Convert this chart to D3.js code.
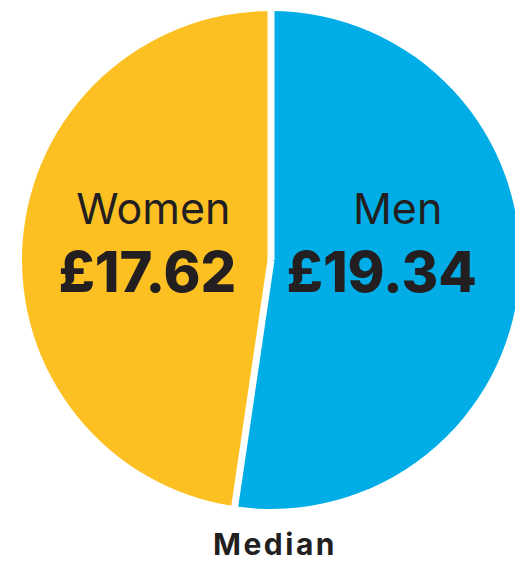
<!DOCTYPE html>
<head>
    <meta charset="utf-8">
    <script src="https://d3js.org/d3.v7.min.js"></script>
    <style>
        body { margin: 0; background: #fff; }
        .canvas text { font-family: Inter, "Open Sans", sans-serif; fill: #231f20; text-anchor: middle; }
        .canvas text.name { font-size: 43px; font-weight: 400; }
        .canvas text.valor { font-size: 56px; font-weight: 800; }
        .canvas text.titulo { font-size: 30px; font-weight: 700; letter-spacing: 2.5px; }
    </style>
</head>
<body>
<div id="chart"></div>
<script>
    // dados
    var groups = ["Men", "Women"];
    var values = [19.34, 17.62];
    var colors = ["#00ade6", "#fdc023"];
    var caption = "Median";

    var width = 515;
    var height = 563;
    var cx = 271, cy = 260, r = 249;

    var svg = d3.select('#chart')
        .append("svg")
        .attr('class', 'canvas')
        .attr('width', width)
        .attr('height', height);

    var data = groups.map(function(g, i) { return {name: g, value: values[i], color: colors[i]}; });

    var pie = d3.pie().sort(null).value(function(d) { return d.value; });
    var arcs = pie(data);

    var arc = d3.arc().innerRadius(0).outerRadius(r);
    var labelArc = d3.arc().innerRadius(125).outerRadius(125);

    var g = svg.append("g")
        .attr("transform", "translate(" + cx + "," + cy + ")");

    // fatias -------------------------------------------------
    g.selectAll('path')
        .data(arcs)
        .enter()
        .append('path')
        .attr('fill', function(d) { return d.data.color; })
        .attr('d', arc);

    // linhas brancas de separação
    g.selectAll('line.sep')
        .data(arcs)
        .enter()
        .append('line')
        .attr('class', 'sep')
        .attr('x1', 0).attr('y1', 0)
        .attr('x2', function(d) { return Math.sin(d.startAngle) * (r + 5); })
        .attr('y2', function(d) { return -Math.cos(d.startAngle) * (r + 5); })
        .attr('stroke', '#fff')
        .attr('stroke-width', 7);

    // rótulos (mesma altura para os dois) ---------------------
    var fmt = d3.format('.2f');
    var lbl = g.selectAll('g.label')
        .data(arcs)
        .enter()
        .append('g')
        .attr('class', 'label')
        .attr('transform', function(d) { return 'translate(' + labelArc.centroid(d)[0] + ',0)'; });

    lbl.append('text')
        .attr('class', 'name')
        .attr('x', function(d) { return d.data.name === "Men" ? 2 : 7; })
        .attr('y', -36)
        .text(function(d) { return d.data.name; });

    lbl.append('text')
        .attr('class', 'valor')
        .attr('x', function(d) { return d.data.name === "Men" ? -14 : 1; })
        .attr('y', 32)
        .text(function(d) { return "£" + fmt(d.data.value); });

    svg.append('text')
        .attr('class', 'titulo')
        .attr('x', cx + 4)
        .attr('y', 555)
        .text(caption);
</script>
</body>
